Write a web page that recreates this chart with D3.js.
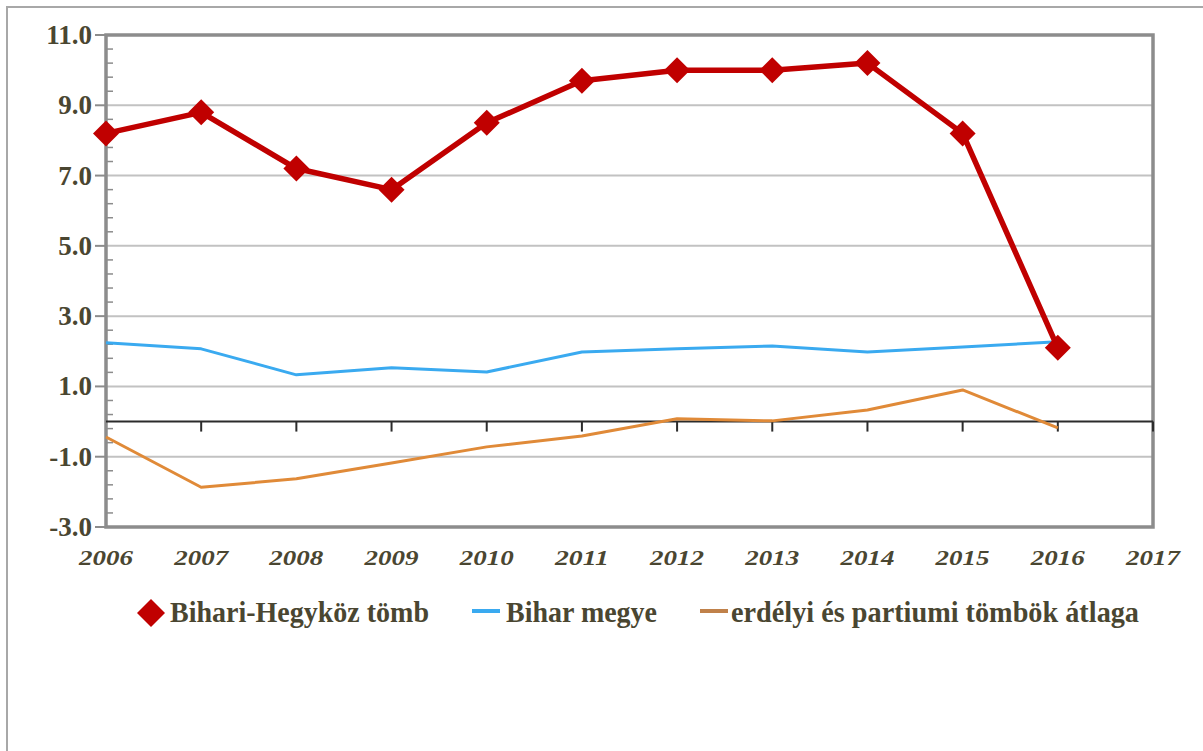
<!DOCTYPE html>
<html lang="hu">
<head>
<meta charset="UTF-8">
<title>Bihari-Hegyköz tömb</title>
<script src="https://d3js.org/d3.v7.min.js"></script>
<style>
  body { margin: 0; background: #fff; }
  .lbl { font-family: 'Liberation Serif', serif; font-weight: bold; fill: #4a4631; }
</style>
</head>
<body>
<script>
// data
const years = [2006, 2007, 2008, 2009, 2010, 2011, 2012, 2013, 2014, 2015, 2016];
const xTickYears = [2006, 2007, 2008, 2009, 2010, 2011, 2012, 2013, 2014, 2015, 2016, 2017];
const bihariHegykoz = [8.2, 8.8, 7.2, 6.6, 8.5, 9.7, 10.0, 10.0, 10.2, 8.2, 2.1];
const biharMegye = [2.24, 2.07, 1.33, 1.53, 1.41, 1.98, 2.07, 2.15, 1.98, 2.12, 2.27];
const erdelyiAtlag = [-0.44, -1.87, -1.63, -1.18, -0.72, -0.41, 0.08, 0.02, 0.33, 0.9, -0.18];
const yTicks = [11, 9, 7, 5, 3, 1, -1, -3];
const seriesNames = ["Bihari-Hegyköz tömb", "Bihar megye", "erdélyi és partiumi tömbök átlaga"];

const W = 1203, H = 751;
const svg = d3.select("body").append("svg").attr("width", W).attr("height", H);

// outer frame (only top + left fall inside the window)
svg.append("path").attr("d", `M7,${H} L7,7 L${W},7`)
  .attr("fill", "none").attr("stroke", "#a8a8a8").attr("stroke-width", 2);

const x = d3.scaleLinear().domain([2006, 2017]).range([106, 1153]);
const y = d3.scaleLinear().domain([-3, 11]).range([527, 35]);

// gridlines
svg.append("g").selectAll("line").data(yTicks.slice(1, -1)).join("line")
  .attr("x1", x(2006)).attr("x2", x(2017))
  .attr("y1", d => y(d)).attr("y2", d => y(d))
  .attr("stroke", "#c2c2c2").attr("stroke-width", 2);

// plot border
svg.append("rect").attr("x", x(2006)).attr("y", y(11))
  .attr("width", x(2017) - x(2006)).attr("height", y(-3) - y(11))
  .attr("fill", "none").attr("stroke", "#8c8c8c").attr("stroke-width", 3.5);

// y axis: major ticks outward, minor ticks inward
svg.append("g").selectAll("line").data(yTicks).join("line")
  .attr("x1", x(2006) - 11).attr("x2", x(2006))
  .attr("y1", d => y(d)).attr("y2", d => y(d))
  .attr("stroke", "#8c8c8c").attr("stroke-width", 2);
const minor = d3.range(-3, 11.001, 0.4).filter(v => Math.abs(Math.round(v) - v) > 0.01 || Math.round(v) % 2 === 0);
svg.append("g").selectAll("line").data(minor).join("line")
  .attr("x1", x(2006)).attr("x2", x(2006) + 7)
  .attr("y1", d => y(d)).attr("y2", d => y(d))
  .attr("stroke", "#8c8c8c").attr("stroke-width", 1.5);

svg.append("g").selectAll("text").data(yTicks).join("text")
  .attr("class", "lbl")
  .attr("x", 92).attr("y", d => y(d) + 9)
  .attr("text-anchor", "end").style("font-size", "27px")
  .text(d => d3.format(".1f")(d).replace("−", "-"));

// category axis at zero
const zeroY = y(0);
svg.append("line").attr("x1", x(2006)).attr("x2", x(2017))
  .attr("y1", zeroY).attr("y2", zeroY)
  .attr("stroke", "#2b2b2b").attr("stroke-width", 2);
svg.append("g").selectAll("line").data(xTickYears.slice(1)).join("line")
  .attr("x1", d => x(d)).attr("x2", d => x(d))
  .attr("y1", zeroY).attr("y2", zeroY + 10)
  .attr("stroke", "#2b2b2b").attr("stroke-width", 2);

svg.append("g").selectAll("text").data(xTickYears).join("text")
  .attr("class", "lbl")
  .attr("x", d => x(d) - 27).attr("y", 565)
  .style("font-size", "21px").style("font-style", "italic")
  .attr("textLength", 54).attr("lengthAdjust", "spacingAndGlyphs")
  .text(d => d);

// lines
const line = d3.line().x((d, i) => x(years[i])).y(d => y(d));
svg.append("path").datum(erdelyiAtlag).attr("d", line)
  .attr("fill", "none").attr("stroke", "#e08a38").attr("stroke-width", 3).attr("stroke-linejoin", "round");
svg.append("path").datum(biharMegye).attr("d", line)
  .attr("fill", "none").attr("stroke", "#3aaaf0").attr("stroke-width", 3).attr("stroke-linejoin", "round");
svg.append("path").datum(bihariHegykoz).attr("d", line)
  .attr("fill", "none").attr("stroke", "#c00000").attr("stroke-width", 5.5).attr("stroke-linejoin", "round");

const diamond = "M0,-13L13,0L0,13L-13,0Z";
svg.append("g").selectAll("path").data(bihariHegykoz).join("path")
  .attr("d", diamond)
  .attr("transform", (d, i) => `translate(${x(years[i])},${y(d)})`)
  .attr("fill", "#c00000");

// legend
const lg = svg.append("g").attr("class", "legend");
lg.append("path").attr("d", "M0,-14L14,0L0,14L-14,0Z").attr("transform", "translate(151,613)").attr("fill", "#c00000");
lg.append("rect").attr("x", 472).attr("y", 609).attr("width", 28).attr("height", 4).attr("fill", "#3aaaf0");
lg.append("rect").attr("x", 700).attr("y", 609).attr("width", 28).attr("height", 4).attr("fill", "#c0814a");
const legendX = [170, 506, 731];
const legendW = [259, 151, 408];
lg.selectAll("text").data(seriesNames).join("text")
  .attr("class", "lbl")
  .attr("x", (d, i) => legendX[i]).attr("y", 622)
  .style("font-size", "29px")
  .attr("textLength", (d, i) => legendW[i]).attr("lengthAdjust", "spacingAndGlyphs")
  .text(d => d);
</script>
</body>
</html>
